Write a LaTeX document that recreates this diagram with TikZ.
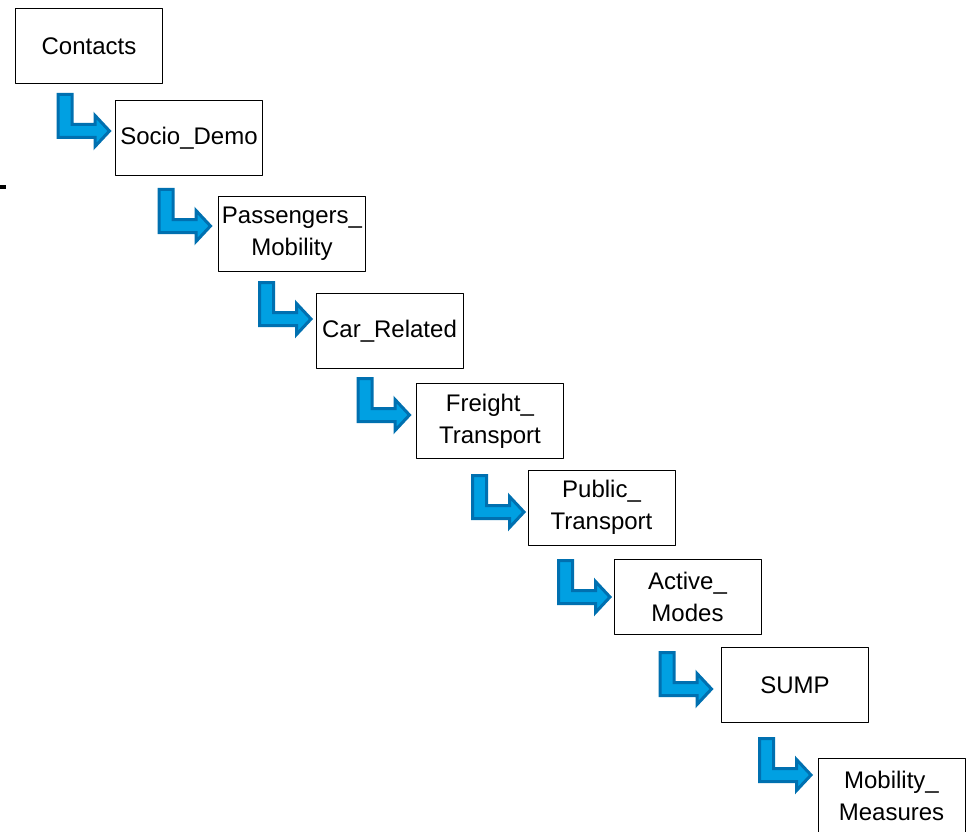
\documentclass[tikz,border=0pt]{standalone}
\usepackage{fontspec}
\setmainfont{Liberation Sans}
\usetikzlibrary{calc}
\definecolor{arrowfill}{RGB}{0,160,226}
\definecolor{arrowline}{RGB}{0,112,176}
\tikzset{
	box/.style={draw, line width=1pt, minimum width=147pt, minimum height=75pt, inner sep=0pt, align=center},
	bentarrow/.pic={
		\filldraw[fill=arrowfill, draw=arrowline, line width=3pt, line join=miter]
		(-53.5,-36.5) -- (-39.5,-36.5) -- (-39.5,-6.5) -- (-16.5,-6.5) -- (-16.5,-15.5) -- (-2,0)
		-- (-16.5,15.5) -- (-16.5,6.5) -- (-53.5,6.5) -- cycle;
	}
}
\begin{document}
\begin{tikzpicture}[x=1pt, y=-1pt, font=\fontsize{24}{32}\selectfont, line join=round]
	\useasboundingbox (0,0) rectangle (967,832);
	\node[box] (contacts) at (89,46.5) {Contacts};
	\node[box] (socio) at (189,138.5) {Socio\_Demo};
	\node[box] (passengers) at (292,234) {Passengers\_\\Mobility};
	\node[box] (car) at (389.5,331) {Car\_Related};
	\node[box] (freight) at (490,421) {Freight\_\\Transport};
	\node[box] (public) at (601.5,507.5) {Public\_\\Transport};
	\node[box] (active) at (687.5,596.5) {Active\_\\Modes};
	\node[box] (sump) at (795,685) {SUMP};
	\node[box] (measures) at (891.5,795.5) {Mobility\_\\Measures};
	\foreach \dest/\dx/\dy in {socio/-3.5/-7.5, passengers/-5.5/-8, car/-2.5/-12, freight/-4.5/-6,
		public/-1.5/4.5, active/-1.5/0.5, sump/-7.5/4, measures/-4.5/-20.5}
		\pic at ($(\dest.west)+(\dx,\dy)$) {bentarrow};
	\fill (0,185) rectangle (6,189);
\end{tikzpicture}
\end{document}
